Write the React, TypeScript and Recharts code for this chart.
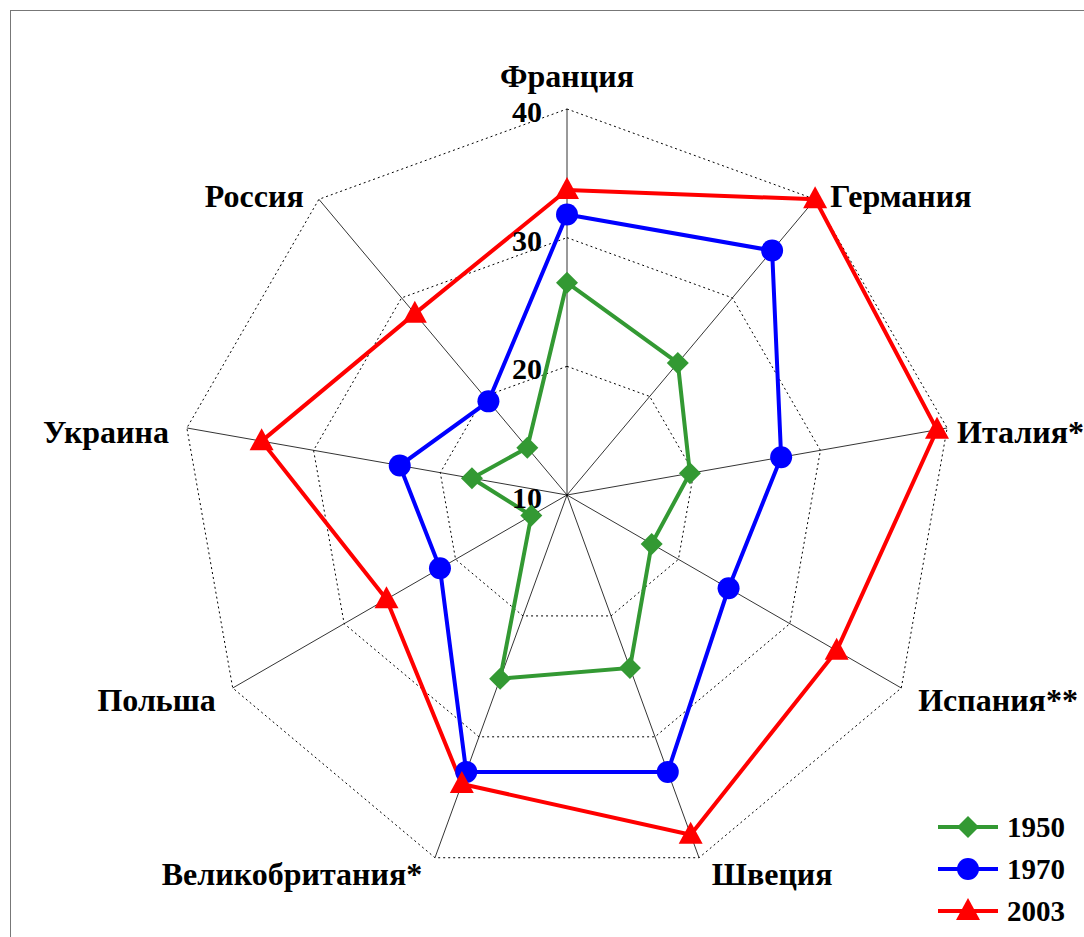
import React from "react";
import {
  RadarChart,
  Radar,
  PolarGrid,
  PolarAngleAxis,
  PolarRadiusAxis,
  Legend,
} from "recharts";

const countries = [
  "Франция",
  "Германия",
  "Италия*",
  "Испания**",
  "Швеция",
  "Великобритания*",
  "Польша",
  "Украина",
  "Россия",
];

const values1950 = [26.5, 23.4, 19.7, 17.6, 24.3, 25.2, 13.2, 17.5, 14.8];
const values1970 = [31.8, 34.8, 26.9, 24.5, 32.9, 32.9, 21.4, 23.2, 19.5];
const values2003 = [33.7, 40, 39.2, 34.2, 38.1, 33.9, 26.2, 34.1, 28.4];

const radiusTicks = [10, 20, 30, 40];

const chartData = countries.map((name, i) => ({
  name,
  y1950: values1950[i],
  y1970: values1970[i],
  y2003: values2003[i],
}));

const FONT = "'Liberation Serif', 'Times New Roman', serif";
const GREEN = "#339933";
const BLUE = "#0000ff";
const RED = "#ff0000";

function Diamond({ cx, cy, fill }: any) {
  const s = 11;
  return (
    <polygon
      points={`${cx},${cy - s} ${cx + s},${cy} ${cx},${cy + s} ${cx - s},${cy}`}
      fill={fill}
    />
  );
}

function Dot({ cx, cy, fill }: any) {
  return <circle cx={cx} cy={cy} r={11} fill={fill} />;
}

function Triangle({ cx, cy, fill }: any) {
  return (
    <polygon
      points={`${cx},${cy - 13} ${cx + 12},${cy + 9} ${cx - 12},${cy + 9}`}
      fill={fill}
    />
  );
}

// country labels round the outside
function AngleTick(props: any) {
  const { x, y, payload } = props;
  const a = (payload.coordinate * Math.PI) / 180;
  const sin = Math.sin(a);
  const cos = Math.cos(a);
  const anchor = cos > 0.05 ? "start" : cos < -0.05 ? "end" : "middle";
  let dx = anchor === "start" ? 10 : anchor === "end" ? -10 : 0;
  if (x > 940) dx = 2; // keep the right-most label inside the frame
  let dy = 17 - 4 * sin;
  if (sin > 0.95) dy = -14;
  if (sin < -0.9) dy = 20;
  return (
    <text
      x={x + dx}
      y={y + dy}
      textAnchor={anchor}
      fontFamily={FONT}
      fontWeight="bold"
      fontSize={32}
      fill="#000"
    >
      {payload.value}
    </text>
  );
}

function RadiusTick(props: any) {
  const { x, y, payload } = props;
  return (
    <text
      x={x - 25}
      y={y + 13}
      textAnchor="end"
      fontFamily={FONT}
      fontWeight="bold"
      fontSize={30}
      fill="#000"
    >
      {payload.value}
    </text>
  );
}

const legendItems = [
  { label: "1950", color: GREEN, Marker: Diamond },
  { label: "1970", color: BLUE, Marker: Dot },
  { label: "2003", color: RED, Marker: Triangle },
];

function renderLegend() {
  return (
    <svg width={150} height={130}>
      {legendItems.map(({ label, color, Marker }, i) => {
        const cy = 22 + i * 42;
        return (
          <g key={label}>
            <line x1={8} x2={68} y1={cy} y2={cy} stroke={color} strokeWidth={4} />
            <Marker cx={38} cy={cy} fill={color} />
            <text
              x={77}
              y={cy + 10}
              fontFamily={FONT}
              fontWeight="bold"
              fontSize={29}
              fill="#000"
            >
              {label}
            </text>
          </g>
        );
      })}
    </svg>
  );
}

export default function App() {
  return (
    <div
      style={{
        position: "absolute",
        left: 0,
        top: 0,
        width: 1084,
        height: 937,
        overflow: "hidden",
        background: "#fff",
      }}
    >
      <div
        style={{
          position: "absolute",
          left: 10,
          top: 10,
          width: 1100,
          height: 960,
          border: "1px solid #777",
        }}
      />
      <div style={{ position: "absolute", left: 0, top: 0 }}>
        <RadarChart
          width={1084}
          height={937}
          cx={567}
          cy={495}
          outerRadius={386}
          data={chartData}
          margin={{ top: 0, right: 0, bottom: 0, left: 0 }}
        >
          <PolarGrid
            gridType="polygon"
            polarRadius={[0]}
            stroke="#000"
            strokeWidth={0.8}
          />
          <PolarGrid
            gridType="polygon"
            radialLines={false}
            stroke="#000"
            strokeWidth={1}
            strokeDasharray="2 3"
          />
          <PolarAngleAxis
            dataKey="name"
            tick={<AngleTick />}
            tickLine={false}
            axisLine={false}
          />
          <PolarRadiusAxis
            angle={90}
            domain={[10, 40]}
            ticks={radiusTicks as any}
            tickCount={4}
            allowDataOverflow
            axisLine={false}
            tickLine={false}
            tick={<RadiusTick />}
          />
          <Radar
            name="1950"
            dataKey="y1950"
            stroke={GREEN}
            strokeWidth={4}
            fill="none"
            fillOpacity={0}
            dot={(p: any) => <Diamond key={p.index} cx={p.cx} cy={p.cy} fill={GREEN} />}
            isAnimationActive={false}
          />
          <Radar
            name="1970"
            dataKey="y1970"
            stroke={BLUE}
            strokeWidth={4}
            fill="none"
            fillOpacity={0}
            dot={(p: any) => <Dot key={p.index} cx={p.cx} cy={p.cy} fill={BLUE} />}
            isAnimationActive={false}
          />
          <Radar
            name="2003"
            dataKey="y2003"
            stroke={RED}
            strokeWidth={4}
            fill="none"
            fillOpacity={0}
            dot={(p: any) => <Triangle key={p.index} cx={p.cx} cy={p.cy} fill={RED} />}
            isAnimationActive={false}
          />
          <Legend
            content={renderLegend}
            wrapperStyle={{ position: "absolute", left: 930, top: 805, width: 150 }}
          />
        </RadarChart>
      </div>
    </div>
  );
}
